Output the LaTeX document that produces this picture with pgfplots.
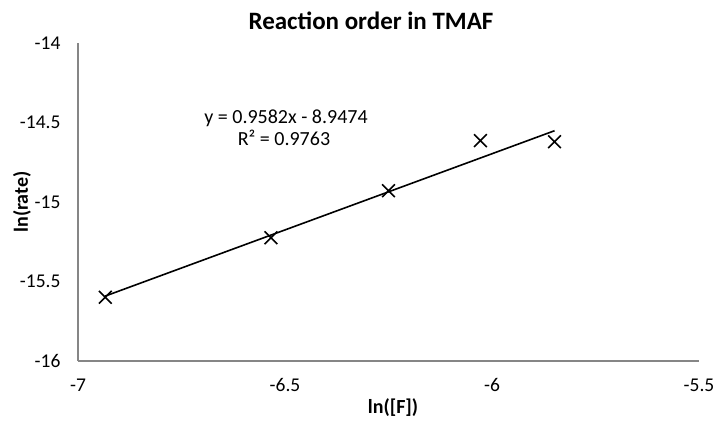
\documentclass[border=0pt]{standalone}
\usepackage{fontspec}
\setmainfont{Carlito}
\usepackage{pgfplots}
\pgfplotsset{compat=1.18}
\definecolor{axgray}{HTML}{868686}
\begin{document}
\begin{tikzpicture}[x=1pt,y=1pt]
\begin{axis}[
  anchor=south west, at={(0pt,0pt)},
  width=621pt, height=318pt, scale only axis,
  xmin=-7, xmax=-5.5, ymin=-16, ymax=-14,
  xtick={-7,-6.5,-6,-5.5},
  ytick={-16,-15.5,-15,-14.5,-14},
  axis x line*=bottom, axis y line*=left,
  axis line style={draw=axgray, line width=1.5pt, -},
  major tick length=0pt,
  /pgf/number format/assume math mode=true,
  tick label style={font=\fontsize{19.5}{24}\selectfont, text=black},
  xticklabel style={yshift=-14pt},
  yticklabel style={xshift=-14pt},
  clip=false,
]
\addplot[only marks, mark=x, mark size=9pt, mark options={line width=1.6pt, black}]
  coordinates {(-6.934,-15.599) (-6.534,-15.225) (-6.250,-14.929) (-6.028,-14.614) (-5.849,-14.621)};
\addplot[black, line width=1.6pt]
  coordinates {(-6.934,-15.5915) (-5.849,-14.5518)};
\end{axis}
\node[font=\fontsize{25}{30}\selectfont\bfseries] at (293,340) {Reaction order in TMAF};
\node[font=\fontsize{20}{24}\selectfont\bfseries] at (315,-47) {ln([F])};
\node[font=\fontsize{20}{24}\selectfont\bfseries, rotate=90] at (-56,159) {ln(rate)};
\node[font=\fontsize{20}{24}\selectfont] at (208,243) {y = 0.9582x - 8.9474};
\node[font=\fontsize{20}{24}\selectfont] at (206,223) {R² = 0.9763};
\pgfresetboundingbox
\useasboundingbox (-78,-59) rectangle (636,361);
\end{tikzpicture}
\end{document}
